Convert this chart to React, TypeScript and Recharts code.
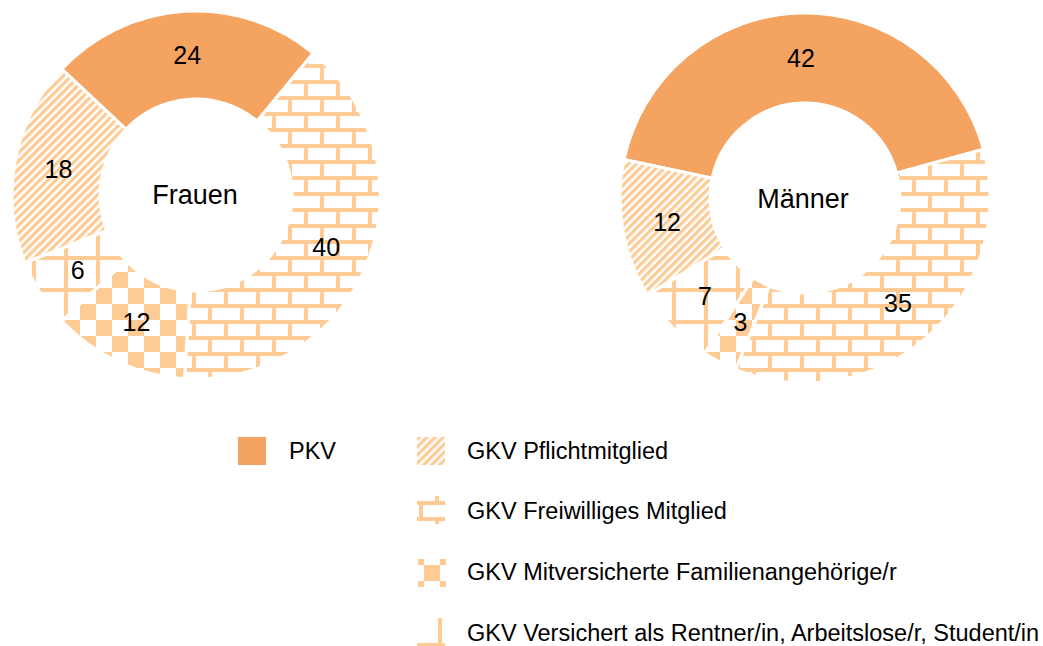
import React from 'react'
import { PieChart, Pie, Cell } from 'recharts'

const FONT = '"Liberation Sans", Arial, Helvetica, sans-serif'
const PKV_COLOR = '#F4A460'
const LIGHT = '#FFCB95'

// slice order follows the donuts clockwise from the PKV slice
const categories = [
  'PKV',
  'GKV Freiwilliges Mitglied',
  'GKV Mitversicherte Familienangehörige/r',
  'GKV Versichert als Rentner/in, Arbeitslose/r, Student/in',
  'GKV Pflichtmitglied',
]
const frauenValues = [24, 40, 12, 6, 18]
const maennerValues = [42, 35, 3, 7, 12]

const legendOrder = [
  'PKV',
  'GKV Pflichtmitglied',
  'GKV Freiwilliges Mitglied',
  'GKV Mitversicherte Familienangehörige/r',
  'GKV Versichert als Rentner/in, Arbeitslose/r, Student/in',
]

const FILLS: Record<string, string> = {
  'PKV': PKV_COLOR,
  'GKV Pflichtmitglied': 'url(#p-stripe)',
  'GKV Freiwilliges Mitglied': 'url(#p-brick)',
  'GKV Mitversicherte Familienangehörige/r': 'url(#p-check)',
  'GKV Versichert als Rentner/in, Arbeitslose/r, Student/in': 'url(#p-grid)',
}

const frauen = categories.map((name, i) => ({ name, value: frauenValues[i] }))
const maenner = categories.map((name, i) => ({ name, value: maennerValues[i] }))

const RAD = Math.PI / 180

function renderLabel(props: any) {
  const { cx, cy, midAngle, innerRadius, outerRadius, value } = props
  const r = (innerRadius + outerRadius) / 2
  const x = cx + r * Math.cos(-midAngle * RAD)
  const y = cy + r * Math.sin(-midAngle * RAD)
  return (
    <text x={x} y={y} textAnchor="middle" dominantBaseline="central" fontSize={25} fontFamily={FONT} fill="#000">
      {value}
    </text>
  )
}

function PatternDefs() {
  return (
    <svg width="0" height="0" style={{ position: 'absolute' }}>
      <defs>
        <pattern id="p-stripe" width="5.7" height="6" patternUnits="userSpaceOnUse" patternTransform="rotate(45)">
          <rect x="0" y="0" width="3.2" height="6" fill={LIGHT} />
        </pattern>
        <pattern id="p-brick" width="32" height="32" patternUnits="userSpaceOnUse">
          <rect x="0" y="0" width="32" height="4" fill={LIGHT} />
          <rect x="0" y="16" width="32" height="4" fill={LIGHT} />
          <rect x="0" y="0" width="4" height="16" fill={LIGHT} />
          <rect x="16" y="16" width="4" height="16" fill={LIGHT} />
        </pattern>
        <pattern id="p-check" width="32" height="32" patternUnits="userSpaceOnUse">
          <rect x="0" y="0" width="16" height="16" fill={LIGHT} />
          <rect x="16" y="16" width="16" height="16" fill={LIGHT} />
        </pattern>
        <pattern id="p-grid" width="32" height="32" patternUnits="userSpaceOnUse">
          <rect x="0" y="0" width="32" height="4" fill={LIGHT} />
          <rect x="0" y="0" width="4" height="32" fill={LIGHT} />
        </pattern>
      </defs>
    </svg>
  )
}

// offset of the 28px crop taken from each pattern for the legend swatch
const ICON_OFFSET: Record<string, [number, number]> = {
  'GKV Pflichtmitglied': [0, 0],
  'GKV Freiwilliges Mitglied': [30, 27],
  'GKV Mitversicherte Familienangehörige/r': [26, 26],
  'GKV Versichert als Rentner/in, Arbeitslose/r, Student/in': [11, 7],
}

function LegendIcon({ name }: { name: string }) {
  const [ox, oy] = ICON_OFFSET[name] ?? [0, 0]
  return (
    <svg width={28} height={28} style={{ display: 'block' }}>
      <g transform={`translate(${-ox},${-oy})`}>
        <rect x={ox} y={oy} width={28} height={28} fill={FILLS[name]} />
      </g>
    </svg>
  )
}

const legendPos: Record<string, { icon: [number, number]; text: [number, number] }> = {
  'PKV': { icon: [238, 437], text: [289, 452] },
  'GKV Pflichtmitglied': { icon: [417, 437], text: [467, 452] },
  'GKV Freiwilliges Mitglied': { icon: [417, 496], text: [467, 512] },
  'GKV Mitversicherte Familienangehörige/r': { icon: [418, 559], text: [467, 573] },
  'GKV Versichert als Rentner/in, Arbeitslose/r, Student/in': { icon: [417, 618], text: [467, 634] },
}

export default function App() {
  return (
    <div style={{ position: 'absolute', left: 0, top: 0, width: 1043, height: 646, background: '#fff', fontFamily: FONT, overflow: 'hidden' }}>
      <PatternDefs />
      <PieChart width={1043} height={400} margin={{ top: 0, right: 0, bottom: 0, left: 0 }} style={{ position: 'absolute', left: 0, top: 0 }}>
        <Pie
          data={frauen}
          dataKey="value"
          nameKey="name"
          cx={196}
          cy={195}
          innerRadius={96}
          outerRadius={184}
          startAngle={136.8}
          endAngle={-223.2}
          stroke="#fff"
          strokeWidth={3}
          label={renderLabel}
          labelLine={false}
          isAnimationActive={false}
        >
          {frauen.map(d => <Cell key={d.name} fill={FILLS[d.name]} />)}
        </Pie>
        <Pie
          data={maenner}
          dataKey="value"
          nameKey="name"
          cx={805}
          cy={198}
          innerRadius={95}
          outerRadius={185}
          startAngle={168}
          endAngle={-192}
          stroke="#fff"
          strokeWidth={3}
          label={renderLabel}
          labelLine={false}
          isAnimationActive={false}
        >
          {maenner.map(d => <Cell key={d.name} fill={FILLS[d.name]} />)}
        </Pie>
      </PieChart>
      <div style={{ position: 'absolute', left: 195, top: 195, transform: 'translate(-50%,-50%)', fontSize: 27, lineHeight: 1, color: '#000', whiteSpace: 'nowrap' }}>Frauen</div>
      <div style={{ position: 'absolute', left: 803, top: 199, transform: 'translate(-50%,-50%)', fontSize: 27, lineHeight: 1, color: '#000', whiteSpace: 'nowrap' }}>Männer</div>
      {legendOrder.map(name => {
        const p = legendPos[name]
        return (
          <React.Fragment key={name}>
            <div style={{ position: 'absolute', left: p.icon[0], top: p.icon[1] }}>
              {name === 'PKV'
                ? <div style={{ width: 28, height: 28, background: PKV_COLOR }} />
                : <LegendIcon name={name} />}
            </div>
            <div style={{ position: 'absolute', left: p.text[0], top: p.text[1], transform: 'translateY(-50%)', fontSize: 23.5, lineHeight: 1, color: '#000', whiteSpace: 'nowrap' }}>
              {name}
            </div>
          </React.Fragment>
        )
      })}
    </div>
  )
}
